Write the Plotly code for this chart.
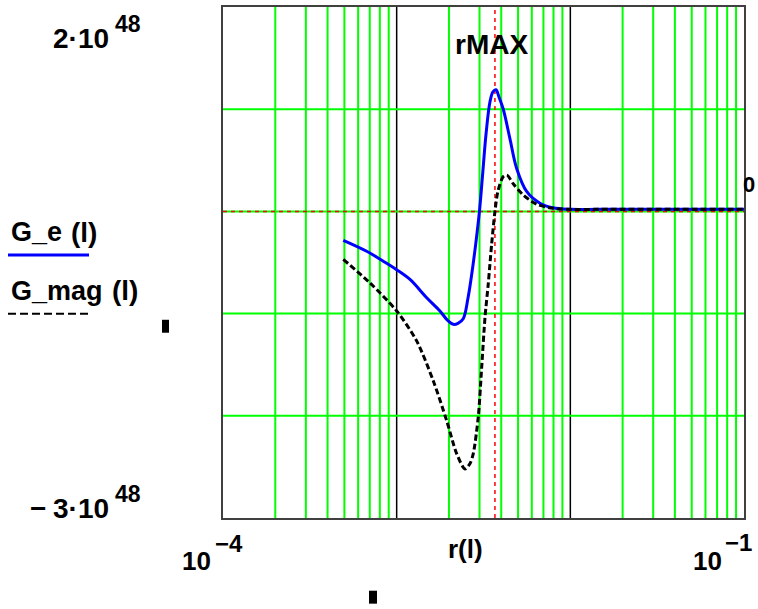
import plotly.graph_objects as go

# ---- data ----
r_e = [4.927e-4, 6.72e-4, 8.375e-4, 1.0e-3, 1.193e-3, 1.489e-3, 1.775e-3, 1.974e-3, 2.118e-3,
       2.254e-3, 2.417e-3, 2.573e-3, 2.713e-3, 2.861e-3, 2.997e-3, 3.139e-3, 3.267e-3,
       3.444e-3, 3.584e-3, 3.730e-3, 3.882e-3, 4.109e-3, 4.492e-3, 4.909e-3, 5.603e-3,
       6.683e-3, 7.94e-3, 1.0e-2, 1.48e-2, 1.0e-1]
G_e = [-0.283, -0.39, -0.487, -0.57, -0.666, -0.845, -0.975, -1.07, -1.105,
       -1.095, -1.05, -0.85, -0.6, -0.3, 0.0, 0.4, 0.75,
       1.07, 1.17, 1.19, 1.12, 1.0, 0.71, 0.42, 0.195,
       0.08, 0.035, 0.02, 0.02, 0.02]
G_e = [v * 1e48 for v in G_e]

r_mag = [4.927e-4, 7.02e-4, 1.0e-3, 1.303e-3, 1.624e-3, 1.940e-3, 2.215e-3, 2.472e-3,
         2.64e-3, 2.761e-3, 2.950e-3, 3.086e-3, 3.225e-3, 3.368e-3, 3.523e-3, 3.681e-3,
         3.831e-3, 4.109e-3, 4.315e-3, 4.690e-3, 5.357e-3, 6.397e-3, 7.97e-3, 1.0e-2,
         1.48e-2, 1.0e-1]
G_mag = [-0.47, -0.70, -0.975, -1.267, -1.657, -2.047, -2.37, -2.52,
         -2.47, -2.37, -2.01, -1.53, -1.04, -0.71, -0.32, 0.0,
         0.2, 0.34, 0.355, 0.27, 0.16, 0.07, 0.03, 0.02,
         0.02, 0.02]
G_mag = [v * 1e48 for v in G_mag]

rMAX = 3.68e-3
y_range = [-3e48, 2e48]
decades = [1e-4, 1e-3, 1e-2]
y_grid = [-2e48, -1e48, 0.0, 1e48]

# ---- geometry ----
W, H = 758, 609
L, R, T, B = 223, 744, 5, 518
PW, PH = R - L, B - T


def px(x):
    return (x - L) / PW


def py(y):
    return (B - y) / PH


FONT = "Liberation Sans, Arial, sans-serif"

fig = go.Figure()
fig.add_trace(go.Scatter(x=r_e, y=G_e, mode="lines",
                         line=dict(color="#0000ff", width=3, shape="spline", smoothing=1.0),
                         showlegend=False, hoverinfo="skip"))
fig.add_trace(go.Scatter(x=r_mag, y=G_mag, mode="lines",
                         line=dict(color="#000000", width=3, dash="6px,3px", shape="spline", smoothing=0.8),
                         showlegend=False, hoverinfo="skip"))

shapes = []
# vertical grid lines
for d in decades:
    for m in range(2, 10):
        shapes.append(dict(type="line", xref="x", yref="paper", x0=m * d, x1=m * d, y0=0, y1=1,
                           line=dict(color="#00ff00", width=2), layer="below"))
for d in decades[1:]:
    shapes.append(dict(type="line", xref="x", yref="paper", x0=d, x1=d, y0=0, y1=1,
                       line=dict(color="#000000", width=1.5), layer="below"))
# horizontal grid lines
for g in y_grid:
    shapes.append(dict(type="line", xref="paper", yref="y", x0=0, x1=1, y0=g, y1=g,
                       line=dict(color="#00ff00", width=2), layer="below"))
# red dashed markers
shapes.append(dict(type="line", xref="paper", yref="y", x0=0, x1=1, y0=0, y1=0,
                   line=dict(color="#ff0000", width=1.5, dash="4px,4px"), layer="below"))
shapes.append(dict(type="line", xref="x", yref="paper", x0=rMAX, x1=rMAX, y0=0, y1=1,
                   line=dict(color="#ff0000", width=1.5, dash="4px,4px"), layer="below"))
# legend lines
shapes.append(dict(type="line", xref="paper", yref="paper", x0=px(8), x1=px(89), y0=py(254), y1=py(254),
                   line=dict(color="#0000ff", width=3)))
shapes.append(dict(type="line", xref="paper", yref="paper", x0=px(8), x1=px(89), y0=py(313), y1=py(313),
                   line=dict(color="#000000", width=2, dash="8px,4px")))
# small black marks
shapes.append(dict(type="rect", xref="paper", yref="paper", x0=px(162), x1=px(169), y0=py(332), y1=py(319),
                   fillcolor="#000000", line=dict(width=0)))
shapes.append(dict(type="rect", xref="paper", yref="paper", x0=px(369), x1=px(377), y0=py(604), y1=py(591),
                   fillcolor="#000000", line=dict(width=0)))

annotations = []


def ann(text, x, y, size, xanchor="left", bold=True):
    annotations.append(dict(text=text, xref="paper", yref="paper", x=px(x), y=py(y), showarrow=False,
                            xanchor=xanchor, yanchor="middle",
                            font=dict(family=FONT, size=size, color="#000000",
                                      weight="bold" if bold else "normal")))


ann("2·10", 51, 37, 28)
ann("48", 113, 22, 23)
ann("−", 28, 508, 28)
ann("3·10", 51, 508, 28)
ann("48", 113, 494, 23)
ann("10", 180, 561, 26)
ann("−4", 213, 544, 24)
ann("10", 691, 561, 26)
ann("−1", 723, 543, 24)
ann("r(l)", 446, 549, 26)
ann("rMAX", 453, 43, 28)
ann("0", 757, 183, 22, xanchor="right")
ann("G_e", 9, 231, 27)
ann("(l)", 69, 231, 28)
ann("G_mag", 9, 290, 27)
ann("(l)", 110, 290, 28)

fig.update_layout(
    width=W, height=H,
    margin=dict(l=L, r=W - R, t=T, b=H - B, pad=0),
    paper_bgcolor="white", plot_bgcolor="white",
    shapes=shapes, annotations=annotations,
    xaxis=dict(type="log", range=[-4, -1], showgrid=False, showticklabels=False, ticks="",
               zeroline=False, showline=True, mirror=True, linecolor="#404040", linewidth=2),
    yaxis=dict(range=y_range, showgrid=False, showticklabels=False, ticks="",
               zeroline=False, showline=True, mirror=True, linecolor="#404040", linewidth=2),
)

fig.write_html("out.html")
